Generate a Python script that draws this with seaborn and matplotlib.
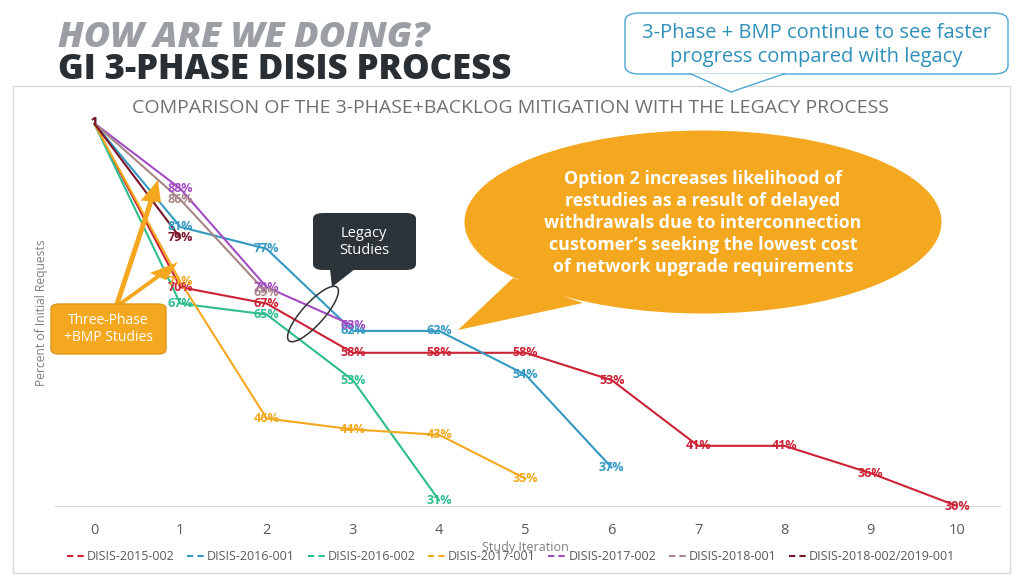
import pandas as pd
import numpy as np
import matplotlib
matplotlib.use("Agg")
import matplotlib.pyplot as plt
from matplotlib.patches import Ellipse, Polygon, FancyBboxPatch, FancyArrow
from matplotlib.lines import Line2D
import seaborn as sns

# data
series_names = ["DISIS-2015-002", "DISIS-2016-001", "DISIS-2016-002", "DISIS-2017-001",
                "DISIS-2017-002", "DISIS-2018-001", "DISIS-2018-002/2019-001"]
disis_2015_002 = [1.00, 0.70, 0.67, 0.58, 0.58, 0.58, 0.53, 0.41, 0.41, 0.36, 0.30]
disis_2016_001 = [1.00, 0.81, 0.77, 0.62, 0.62, 0.54, 0.37]
disis_2016_002 = [1.00, 0.67, 0.65, 0.53, 0.31]
disis_2017_001 = [1.00, 0.71, 0.46, 0.44, 0.43, 0.35]
disis_2017_002 = [1.00, 0.88, 0.70, 0.63]
disis_2018_001 = [1.00, 0.86, 0.69]
disis_2018_002 = [1.00, 0.79]
iterations = list(range(11))

colors = ["#cc2236", "#3399c3", "#2dbd8f", "#f4a81f", "#a24cc4", "#a88686", "#7a1428"]

all_vals = [disis_2015_002, disis_2016_001, disis_2016_002, disis_2017_001,
            disis_2017_002, disis_2018_001, disis_2018_002]
rows = []
for name, vals in zip(series_names, all_vals):
    for it, v in zip(iterations, vals):
        rows.append({"series": name, "iteration": it, "pct": v})
df = pd.DataFrame(rows)

sns.set_style("white")
plt.rcParams['font.family'] = ['Open Sans', 'DejaVu Sans']

W, H = 1024, 576
def fx(x):
    return x / W
def fy(y):
    return 1 - y / H

fig = plt.figure(figsize=(10.24, 5.76), dpi=100)
fig.patch.set_facecolor("white")

# chart frame
fig.add_artist(plt.Rectangle((fx(13), fy(573)), fx(1010) - fx(13), fy(86) - fy(573),
                             transform=fig.transFigure, fill=False, ec="#d9d9d9", lw=1))

ax = fig.add_axes([fx(55), fy(506), fx(1000) - fx(55), fy(123) - fy(506)])
sns.lineplot(data=df, x="iteration", y="pct", hue="series", hue_order=series_names,
             palette=colors, linewidth=1.5, legend=False, ax=ax, sort=False)

for name, vals, c in zip(series_names, all_vals, colors):
    for it, v in zip(iterations, vals):
        lab = "1" if v == 1.0 else f"{round(v * 100)}%"
        ax.text(it, v, lab, color=c, fontsize=9, fontweight="bold",
                ha="center", va="center", clip_on=False)

ax.set_xlim(-(94 - 55) / 86.3, 10 + (1000 - 957) / 86.3)
ax.set_ylim(0.30, 1.0)
ax.set_xticks(iterations)
ax.set_xticklabels([str(i) for i in iterations], color="#595959", fontsize=10.5)
ax.tick_params(axis="x", length=0, pad=12)
ax.set_yticks([])
ax.set_xlabel("")
ax.set_ylabel("")
for s in ["top", "right", "left"]:
    ax.spines[s].set_visible(False)
ax.spines["bottom"].set_color("#d9d9d9")
ax.patch.set_alpha(0)

fig.text(fx(525), fy(548), "Study Iteration", ha="center", va="center",
         fontsize=9, color="#7f7f7f")
fig.text(fx(42), fy(313), "Percent of Initial Requests", ha="center", va="center",
         rotation=90, fontsize=8.7, color="#7f7f7f")

handles = [Line2D([0], [0], color=c, lw=1.5, linestyle=(0, (3, 2))) for c in colors]
fig.legend(handles, series_names, loc="center", bbox_to_anchor=(fx(511), fy(557)),
           ncol=7, frameon=False, fontsize=9, handlelength=1.4, handletextpad=0.2,
           columnspacing=1.0, labelcolor="#595959")

# titles
fig.text(fx(58), fy(38), "HOW ARE WE DOING?", fontsize=26, fontweight="heavy",
         style="italic", color="#9b9fa4", ha="left", va="center")
fig.text(fx(58), fy(70), "GI 3-PHASE DISIS PROCESS", fontsize=25, fontweight="heavy",
         color="#2a2f33", ha="left", va="center")
fig.text(fx(510), fy(108), "COMPARISON OF THE 3-PHASE+BACKLOG MITIGATION WITH THE LEGACY PROCESS",
         fontsize=14, color="#707070", ha="center", va="center")

# top-right callout
fig.add_artist(FancyBboxPatch((fx(625), fy(74)), fx(1008) - fx(625), fy(13) - fy(74),
                              boxstyle="round,pad=0,rounding_size=0.014",
                              transform=fig.transFigure, fc="white", ec="#4aa6d3", lw=1))
fig.add_artist(Polygon([(fx(690), fy(73.5)), (fx(731), fy(92)), (fx(785), fy(73.5))],
                       closed=False, transform=fig.transFigure, fc="white", ec="#4aa6d3", lw=1))
fig.text(fx(816), fy(45), "3-Phase + BMP continue to see faster\nprogress compared with legacy",
         fontsize=14.5, color="#2f90bb", ha="center", va="center", linespacing=1.3)

# orange speech bubble
orange = "#f4a81f"
fig.add_artist(Ellipse((fx(703), fy(222)), fx(477), 183 / H, transform=fig.transFigure,
                       fc=orange, ec="none"))
fig.add_artist(Polygon([(fx(513), fy(278)), (fx(458), fy(330)), (fx(583), fy(303))],
                       transform=fig.transFigure, fc=orange, ec="none"))
fig.text(fx(703), fy(223), "Option 2 increases likelihood of\nrestudies as a result of delayed\n"
         "withdrawals due to interconnection\ncustomer\u2019s seeking the lowest cost\n"
         "of network upgrade requirements",
         fontsize=12.8, fontweight="bold", color="white", ha="center", va="center",
         linespacing=1.3)

# legacy studies callout
dark = "#2d3439"
fig.add_artist(FancyBboxPatch((fx(313), fy(270)), fx(416) - fx(313), fy(213) - fy(270),
                              boxstyle="round,pad=0,rounding_size=0.01",
                              transform=fig.transFigure, fc=dark, ec="none"))
fig.add_artist(Polygon([(fx(330), fy(269)), (fx(332), fy(287)), (fx(355), fy(269))],
                       transform=fig.transFigure, fc=dark, ec="none"))
fig.text(fx(364), fy(242), "Legacy\nStudies", fontsize=10.5, color="white",
         ha="center", va="center", linespacing=1.2)
ell = Ellipse((313, H - 314), 72, 22, angle=48, fill=False, ec="#333333", lw=1.1,
              transform=None)
fig.add_artist(ell)

# three-phase box with arrows
fig.add_artist(FancyArrow(fx(117), fy(304), fx(158) - fx(117), fy(180) - fy(304),
                          width=0.005, head_width=0.02, head_length=0.038,
                          length_includes_head=True, transform=fig.transFigure,
                          fc=orange, ec="none"))
fig.add_artist(FancyArrow(fx(120), fy(304), fx(178) - fx(120), fy(262) - fy(304),
                          width=0.005, head_width=0.02, head_length=0.032,
                          length_includes_head=True, transform=fig.transFigure,
                          fc=orange, ec="none"))
fig.add_artist(FancyBboxPatch((fx(51), fy(354)), fx(166) - fx(51), fy(304) - fy(354),
                              boxstyle="round,pad=0,rounding_size=0.008",
                              transform=fig.transFigure, fc=orange, ec="#e0961a", lw=1))
fig.text(fx(108), fy(329), "Three-Phase\n+BMP Studies", fontsize=10, color="white",
         ha="center", va="center", linespacing=1.25)

plt.savefig("out.png", dpi=100)
